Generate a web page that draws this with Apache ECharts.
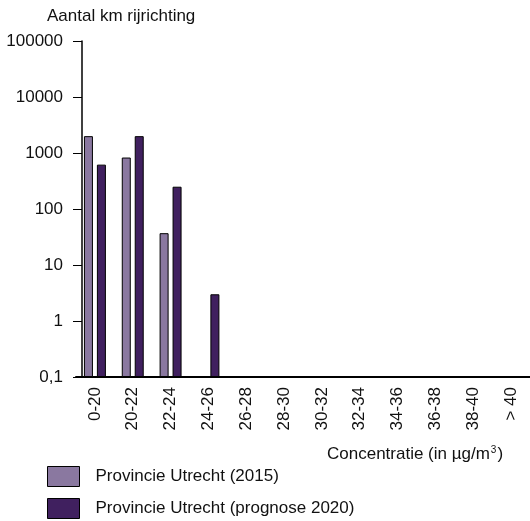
<!DOCTYPE html>
<html>
<head>
<meta charset="utf-8">
<script src="https://cdn.jsdelivr.net/npm/echarts@6/dist/echarts.min.js"></script>
<style>html,body{margin:0;padding:0;background:#fff;}#c{width:530px;height:521px;}</style>
</head>
<body>
<div id="c"></div>
<script>
const categories = ['0-20','20-22','22-24','24-26','26-28','28-30','30-32','32-34','34-36','36-38','38-40','> 40'];
const series2015 = [2000, 830, 37, 0.1, 0.1, 0.1, 0.1, 0.1, 0.1, 0.1, 0.1, 0.1];
const series2020 = [620, 2000, 250, 3, 0.1, 0.1, 0.1, 0.1, 0.1, 0.1, 0.1, 0.1];
const seriesNames = ['Provincie Utrecht (2015)', 'Provincie Utrecht (prognose 2020)'];
const yTicks = [0.1, 1, 10, 100, 1000, 10000, 100000];

// Log scale rendered as decades above the axis minimum (0.1), so bars start at the bottom.
const yMin = yTicks[0];
const toDec = v => Math.log10(v / yMin);
const fromDec = d => yMin * Math.pow(10, d);

const FONT = 'Liberation Sans, Arial, sans-serif';
const FS = 17;
const chart = echarts.init(document.getElementById('c'), null, {renderer: 'canvas'});
chart.setOption({
  animation: false,
  backgroundColor: '#fff',
  textStyle: {fontFamily: FONT},
  title: {
    text: 'Aantal km rijrichting',
    left: 42, top: 3,
    textStyle: {fontFamily: FONT, fontSize: FS, fontWeight: 'normal', color: '#111'}
  },
  grid: {left: 76, top: 41, width: 462, height: 336, containLabel: false},
  xAxis: {
    type: 'category',
    data: categories,
    axisLine: {lineStyle: {color: '#000', width: 2}},
    axisTick: {show: false},
    axisLabel: {rotate: 90, interval: 0, margin: 10, fontSize: FS, color: '#111', fontFamily: FONT}
  },
  yAxis: {
    type: 'value',
    min: 0,
    max: toDec(yTicks[yTicks.length - 1]),
    interval: 1,
    offset: -6,
    splitLine: {show: false},
    axisLine: {show: true, lineStyle: {color: '#000', width: 1.5}},
    axisTick: {show: true, length: 9, lineStyle: {color: '#000'}},
    axisLabel: {
      margin: 19, fontSize: FS, color: '#111', fontFamily: FONT,
      formatter: d => {
        const v = yTicks.find(t => Math.abs(toDec(t) - d) < 1e-6);
        return String(v !== undefined ? v : fromDec(d)).replace('.', ',');
      }
    }
  },
  legend: {
    orient: 'vertical',
    left: 47, top: 466,
    padding: 0,
    itemWidth: 32, itemHeight: 20, itemGap: 11,
    icon: 'rect',
    itemStyle: {borderColor: '#000', borderWidth: 1},
    textStyle: {fontFamily: FONT, fontSize: FS, color: '#111', padding: [0, 0, 0, 11]},
    data: seriesNames
  },
  graphic: [{
    type: 'text',
    left: 327, top: 445,
    style: {
      text: '{a|Concentratie (in µg/m}{s|3}{a|)}',
      rich: {
        a: {fontFamily: FONT, fontSize: FS, fill: '#111'},
        s: {fontFamily: FONT, fontSize: 10, fill: '#111', verticalAlign: 'top', padding: [0, 1, 8, 1]}
      }
    }
  }],
  series: [
    {
      name: seriesNames[0], type: 'bar', data: series2015.map(toDec),
      barWidth: 9, barGap: '44%',
      itemStyle: {color: '#8a78a0', borderColor: '#000', borderWidth: 1}
    },
    {
      name: seriesNames[1], type: 'bar', data: series2020.map(toDec),
      barWidth: 9,
      itemStyle: {color: '#40205f', borderColor: '#000', borderWidth: 1}
    }
  ]
});
</script>
</body>
</html>
